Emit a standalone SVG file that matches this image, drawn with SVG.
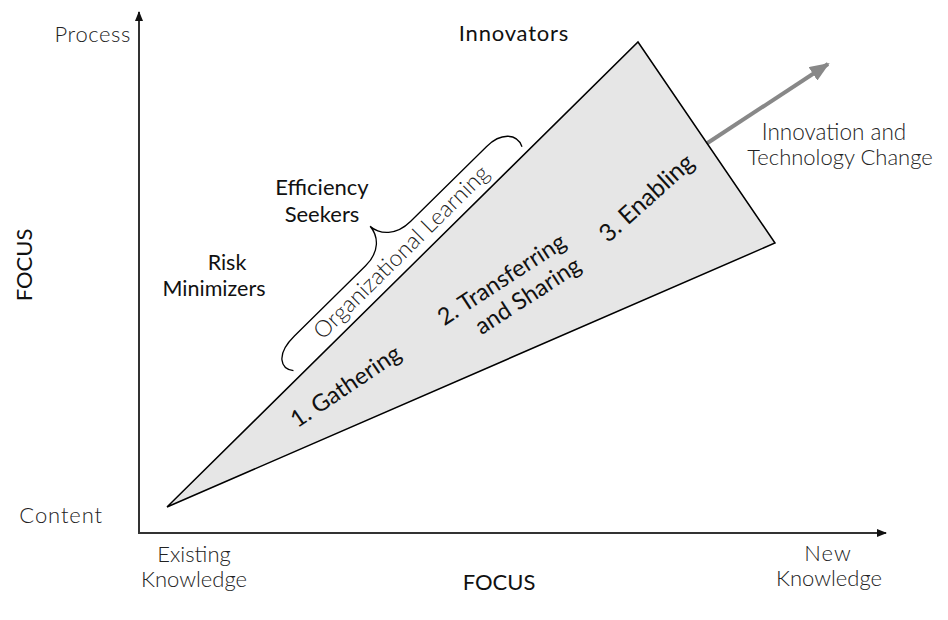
<svg xmlns="http://www.w3.org/2000/svg" width="948" height="620" viewBox="0 0 948 620">
<style>
.t{font-family:Lato,"Open Sans","Liberation Sans",sans-serif;fill:#111;}
.lt{font-weight:300;fill:#222;}
.rg{font-weight:400;}
.ax{stroke:#333;stroke-width:2;fill:none;}
</style>
<defs>
<marker id="ah" markerWidth="10" markerHeight="8" refX="9" refY="4" orient="auto" markerUnits="userSpaceOnUse">
<path d="M0,0 L10,4 L0,8 Z" fill="#111"/>
</marker>
<marker id="gh" markerWidth="20" markerHeight="16" refX="18" refY="8" orient="auto" markerUnits="userSpaceOnUse">
<path d="M0,0 L20,8 L0,16 Z" fill="#888"/>
</marker>
</defs>
<g id="connectors">
<line class="ax" x1="139" y1="534" x2="139" y2="12" marker-end="url(#ah)"/>
<line class="ax" x1="138" y1="533" x2="886" y2="533" marker-end="url(#ah)"/>
<line x1="706" y1="144" x2="828" y2="64" stroke="#888" stroke-width="4" marker-end="url(#gh)"/>
</g>
<g id="wedge">
<polygon points="167,507 638,42 775,243" fill="#e6e6e6" stroke="#000" stroke-width="1.5" stroke-linejoin="miter"/>
</g>
<g id="brace" transform="translate(413,264) rotate(-44.6)">
<path d="M -160,-8 C -168,-18 -162,-32 -135,-32 L -35,-32 C -15,-32 -5,-44 -4,-57 C -3,-44 8,-32 28,-32 L 135,-32 C 155,-32 166,-20 160,-7" fill="none" stroke="#000" stroke-width="1.3"/>
<text class="t lt" x="0" y="-9" font-size="23" text-anchor="middle" textLength="236">Organizational Learning</text>
</g>
<g id="axis-labels">
<text class="t lt" x="131" y="42" font-size="22" text-anchor="end" letter-spacing="0.6">Process</text>
<text class="t lt" x="103" y="523" font-size="22" text-anchor="end" letter-spacing="0.9">Content</text>
<text class="t lt" x="194" y="562" font-size="22" text-anchor="middle">Existing</text>
<text class="t lt" x="194" y="587" font-size="22" text-anchor="middle">Knowledge</text>
<text class="t lt" x="828" y="561" font-size="22" text-anchor="middle" letter-spacing="1">New</text>
<text class="t lt" x="829" y="586" font-size="22" text-anchor="middle">Knowledge</text>
<text class="t rg" x="499" y="590" font-size="22" text-anchor="middle">FOCUS</text>
<text class="t rg" transform="translate(32,265) rotate(-90)" x="0" y="0" font-size="22" text-anchor="middle">FOCUS</text>
</g>
<g id="innovators"><text class="t rg" x="514" y="41" font-size="22" text-anchor="middle" letter-spacing="0.8">Innovators</text></g>
<g id="efficiency-seekers">
<text class="t rg" x="322" y="195" font-size="22" text-anchor="middle">Efficiency</text>
<text class="t rg" x="322" y="222" font-size="22" text-anchor="middle">Seekers</text>
</g>
<g id="risk-minimizers">
<text class="t rg" x="227" y="270" font-size="21.5" text-anchor="middle">Risk</text>
<text class="t rg" x="214" y="296" font-size="21.5" text-anchor="middle">Minimizers</text>
</g>
<g id="innovation-label">
<text class="t lt" x="834" y="140" font-size="22.5" text-anchor="middle">Innovation and</text>
<text class="t lt" x="840" y="165" font-size="22" text-anchor="middle">Technology Change</text>
</g>
<g id="gathering"><text class="t rg" transform="translate(350,393) rotate(-34)" font-size="23.5" text-anchor="middle">1. Gathering</text></g>
<g id="transferring" transform="translate(506,286) rotate(-33)">
<text class="t rg" x="0" y="0" font-size="23.5" text-anchor="middle">2. Transferring</text>
<text class="t rg" x="13" y="28" font-size="23.5" text-anchor="middle">and Sharing</text>
</g>
<g id="enabling"><text class="t rg" transform="translate(652,204) rotate(-42)" font-size="24.5" text-anchor="middle">3. Enabling</text></g>
</svg>
